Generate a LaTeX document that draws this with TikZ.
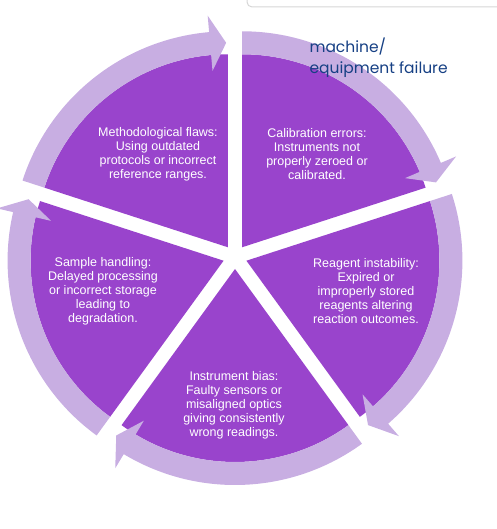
\documentclass[tikz,border=0pt]{standalone}
\usepackage{fontspec}
\setmainfont{Liberation Sans}
\newfontfamily\handfont{Poppins}
\definecolor{segpurple}{RGB}{153,68,204}
\definecolor{ringlilac}{RGB}{200,174,226}
\definecolor{inkblue}{RGB}{22,64,132}
\definecolor{boxgray}{RGB}{214,214,214}

\begin{document}
\begin{tikzpicture}[x=1pt, y=1pt, font=\fontsize{12.5}{14}\selectfont,
	segment/.style={fill=segpurple},
	ringarrow/.style={fill=ringlilac},
	cause/.style={text=white, align=center},
	note/.style={text=inkblue, align=left, anchor=north west, font=\handfont\fontsize{15.5}{21}\selectfont}]
	\useasboundingbox (-235,-272) rectangle (261,257);
	\draw[boxgray, line width=1pt, rounded corners=5pt] (12,270) -- (12,250) -- (275,250);
	% segments, pushed out from the centre
	\foreach \a in {18,90,162,234,306} {
		\begin{scope}[shift={({\a+36}:12)}]
			\fill[segment] (0,0) -- (\a:193) arc[start angle=\a, end angle=\a+72, radius=193] -- cycle;
		\end{scope}
	}
	% rim arrows, clockwise
	\foreach \a in {18,90,162,234,306} {
		\begin{scope}[shift={({\a+36}:12)}]
			\fill[ringarrow] ({\a+72}:216) arc[start angle=\a+72, end angle=\a+5, radius=216]
				-- ({\a+5}:232.5) -- ({\a+0.5}:204.5) -- ({\a+5}:177) -- ({\a+5}:193)
				arc[start angle=\a+5, end angle=\a+72, radius=193] -- cycle;
		\end{scope}
	}
	\node[cause] (meth) at (-77,103) {Methodological flaws:\\Using outdated\\protocols or incorrect\\reference ranges.};
	\node[cause] (calib) at (82,103) {Calibration errors:\\Instruments not\\properly zeroed or\\calibrated.};
	\node[cause] (reag) at (131,-34.5) {Reagent instability:\\Expired or\\improperly stored\\reagents altering\\reaction outcomes.};
	\node[cause] (bias) at (-1,-148) {Instrument bias:\\Faulty sensors or\\misaligned optics\\giving consistently\\wrong readings.};
	\node[cause] (sample) at (-132,-34.5) {Sample handling:\\Delayed processing\\or incorrect storage\\leading to\\degradation.};
	\node[note] (fail) at (71,223) {machine/\\equipment failure};
\end{tikzpicture}
\end{document}
